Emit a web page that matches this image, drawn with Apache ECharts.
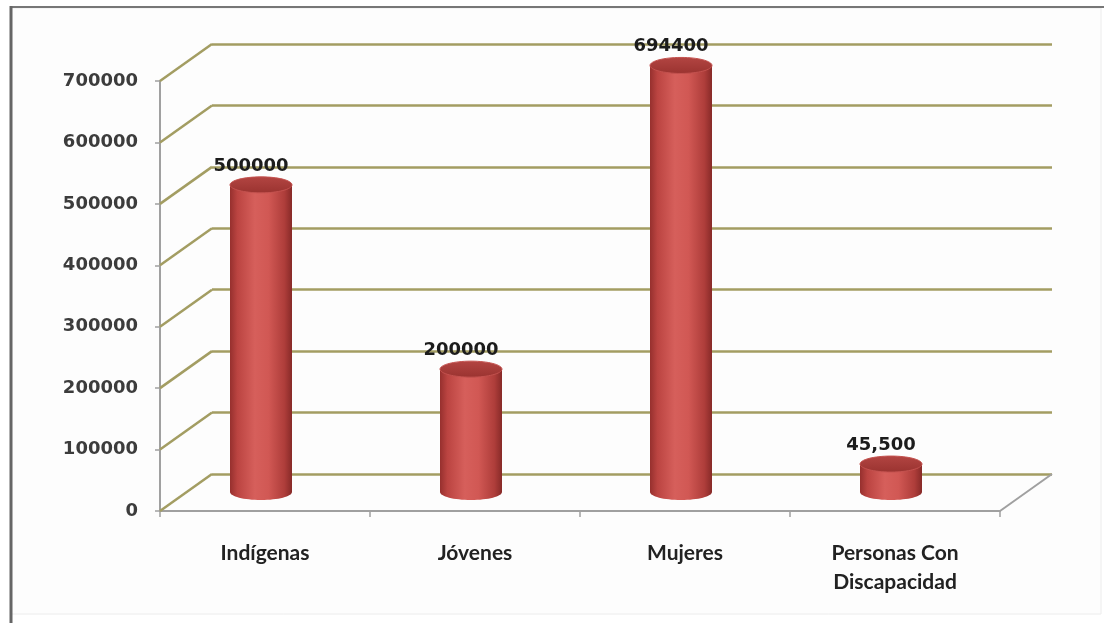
<!DOCTYPE html>
<html>
<head>
<meta charset="utf-8">
<script src="https://cdn.jsdelivr.net/npm/echarts@6/dist/echarts.min.js"></script>
<style>html,body{margin:0;padding:0;background:#fff}#c{width:1104px;height:623px}</style>
</head>
<body>
<div id="c"></div>
<script>
// ---- data ----
const categories = ['Indígenas', 'Jóvenes', 'Mujeres', 'Personas Con\nDiscapacidad'];
const values = [500000, 200000, 694400, 45500];
const valueLabels = ['500000', '200000', '694400', '45,500'];
const yTicks = [0, 100000, 200000, 300000, 400000, 500000, 600000, 700000];

// ---- layout / style constants ----
const FRONT = {left: 160, top: 81, right: 104, bottom: 112};
const DEPTH = {dx: 52, dy: -37};
const CYL = {dx: -4, dy: -19, w: 62, ry: 8};
const OLIVE = '#a39d62';
const AXIS_GRAY = '#a0a0a0';

const chart = echarts.init(document.getElementById('c'), null, {renderer: 'canvas'});

const option = {
  animation: false,
  backgroundColor: '#ffffff',
  graphic: [
    {type: 'rect', shape: {x: 11, y: 8, width: 1090, height: 606}, style: {fill: '#fdfdfd', stroke: '#ececec', lineWidth: 1}, z: -10},
    {type: 'line', shape: {x1: 10, y1: 7, x2: 1104, y2: 7}, style: {stroke: '#777', lineWidth: 2}, z: -9},
    {type: 'line', shape: {x1: 11, y1: 6, x2: 11, y2: 623}, style: {stroke: '#666', lineWidth: 3}, z: -9}
  ],
  grid: [
    {left: FRONT.left, top: FRONT.top, right: FRONT.right, bottom: FRONT.bottom, containLabel: false},
    {left: FRONT.left + DEPTH.dx, top: FRONT.top + DEPTH.dy, right: FRONT.right - DEPTH.dx, bottom: FRONT.bottom - DEPTH.dy, containLabel: false}
  ],
  xAxis: [
    {
      type: 'category', gridIndex: 0, data: categories, boundaryGap: true,
      axisLine: {show: true, lineStyle: {color: AXIS_GRAY, width: 2}},
      axisTick: {show: true, alignWithLabel: false, length: 6, lineStyle: {color: AXIS_GRAY, width: 1.5}},
      axisLabel: {color: '#222', fontFamily: 'Lato', fontWeight: 'bold', fontSize: 21, margin: 28, lineHeight: 29, interval: 0},
      splitLine: {show: false}
    },
    {type: 'category', gridIndex: 1, data: categories, show: false}
  ],
  yAxis: [
    {
      type: 'value', gridIndex: 0, min: 0, max: 700000, interval: 100000,
      axisLine: {show: true, lineStyle: {color: AXIS_GRAY, width: 2}},
      axisTick: {show: true, length: 5, lineStyle: {color: AXIS_GRAY, width: 1.5}},
      axisLabel: {color: '#3c3c3c', fontFamily: 'DejaVu Sans', fontWeight: 'bold', fontSize: 18, margin: 22,
        formatter: v => String(v)},
      splitLine: {show: false}
    },
    {
      type: 'value', gridIndex: 1, min: 0, max: 700000, interval: 100000,
      axisLine: {show: false}, axisTick: {show: false}, axisLabel: {show: false},
      splitLine: {show: true, lineStyle: {color: OLIVE, width: 2.5}}
    }
  ],
  series: [
    // diagonal connectors from front axis to back wall
    {
      type: 'custom', xAxisIndex: 0, yAxisIndex: 0, z: 1,
      data: yTicks.map(v => [0, v]),
      encode: {x: 0, y: 1},
      renderItem: function (params, api) {
        const p = api.coord([0, api.value(1)]);
        const bw = api.size([1, 0])[0];
        const x0 = p[0] - bw / 2;
        return {type: 'line', shape: {x1: x0, y1: p[1], x2: x0 + DEPTH.dx, y2: p[1] + DEPTH.dy},
          style: {stroke: OLIVE, lineWidth: 2.5}};
      }
    },
    // floor right edge
    {
      type: 'custom', xAxisIndex: 0, yAxisIndex: 0, z: 1,
      data: [[categories.length - 1, 0]],
      encode: {x: 0, y: 1},
      renderItem: function (params, api) {
        const p = api.coord([api.value(0), 0]);
        const bw = api.size([1, 0])[0];
        const x0 = p[0] + bw / 2;
        return {type: 'line', shape: {x1: x0, y1: p[1], x2: x0 + DEPTH.dx, y2: p[1] + DEPTH.dy},
          style: {stroke: AXIS_GRAY, lineWidth: 2}};
      }
    },
    // cylinders
    {
      type: 'custom', xAxisIndex: 0, yAxisIndex: 0, z: 5,
      data: values.map((v, i) => [i, v]),
      encode: {x: 0, y: 1},
      renderItem: function (params, api) {
        const i = api.value(0), v = api.value(1);
        const top = api.coord([i, v]);
        const base = api.coord([i, 0]);
        const cx = top[0] + CYL.dx;
        const yt = top[1] + CYL.dy;
        const yb = base[1] + CYL.dy;
        const r = CYL.w / 2;
        const grad = new echarts.graphic.LinearGradient(0, 0, 1, 0, [
          {offset: 0, color: '#96302e'},
          {offset: 0.12, color: '#bb4441'},
          {offset: 0.4, color: '#d65f5b'},
          {offset: 0.62, color: '#d15854'},
          {offset: 0.88, color: '#ae3d3a'},
          {offset: 1, color: '#872a28'}
        ]);
        const topGrad = new echarts.graphic.LinearGradient(0, 0, 0, 1, [
          {offset: 0, color: '#b34542'},
          {offset: 1, color: '#9a3330'}
        ]);
        return {
          type: 'group',
          children: [
            {type: 'ellipse', shape: {cx: cx, cy: yb, rx: r, ry: CYL.ry}, style: {fill: grad}},
            {type: 'rect', shape: {x: cx - r, y: yt, width: 2 * r, height: yb - yt}, style: {fill: grad}},
            {type: 'ellipse', shape: {cx: cx, cy: yt, rx: r, ry: CYL.ry}, style: {fill: topGrad, stroke: '#c4524f', lineWidth: 1}},
            {type: 'text', style: {
              text: valueLabels[i], x: cx - 10, y: yt - CYL.ry - 2,
              align: 'center', verticalAlign: 'bottom',
              font: 'bold 18px "DejaVu Sans"', fill: '#1c1c1c',
              shadowColor: 'rgba(0,0,0,0.25)', shadowBlur: 2
            }}
          ]
        };
      }
    }
  ]
};
chart.setOption(option);
</script>
</body>
</html>
